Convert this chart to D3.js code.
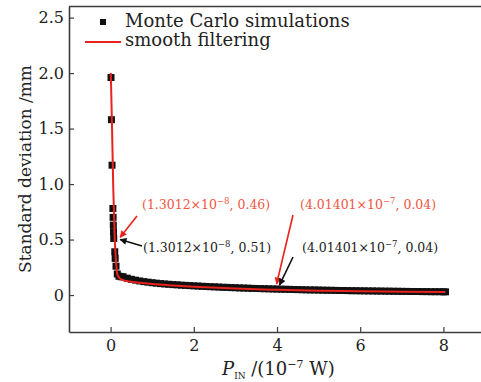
<!DOCTYPE html>
<html><head><meta charset="utf-8">
<script src="https://cdn.jsdelivr.net/npm/d3@7"></script>
<style>body{margin:0;background:#fff}svg{display:block}text{font-family:"DejaVu Serif",serif}</style>
</head><body><svg id="c" width="481" height="382"></svg>
<script>
// ---- data ----
const xTicks = [0, 2, 4, 6, 8];
const xTickLabels = ["0", "2", "4", "6", "8"];
const yTicks = [0, 0.5, 1.0, 1.5, 2.0, 2.5];
const yTickLabels = ["0", "0.5", "1.0", "1.5", "2.0", "2.5"];

const mcX = [0.01,0.02,0.035,0.055,0.06,0.065,0.07,0.075,0.1,0.11,0.13,0.16,0.2,0.25,
  0.3,0.4,0.5,0.6,0.7,0.8,0.9,1.0,1.1,1.2,1.3,1.4,1.5,1.6,1.7,1.8,1.9,2.0,
  2.1,2.2,2.3,2.4,2.5,2.6,2.7,2.8,2.9,3.0,3.1,3.2,3.3,3.4,3.5,3.6,3.7,3.8,3.9,4.0,
  4.1,4.2,4.3,4.4,4.5,4.6,4.7,4.8,4.9,5.0,5.1,5.2,5.3,5.4,5.5,5.6,5.7,5.8,5.9,6.0,
  6.1,6.2,6.3,6.4,6.5,6.6,6.7,6.8,6.9,7.0,7.1,7.2,7.3,7.4,7.5,7.6,7.7,7.8,7.9,8.0,8.05];
const mcY = [1.96,1.58,1.17,0.78,0.70,0.63,0.57,0.51,0.39,0.33,0.26,0.19,0.17,0.165,
  0.165,0.152,0.142,0.134,0.127,0.121,0.116,0.111,0.107,0.103,0.100,0.097,0.094,0.092,0.089,0.087,0.085,0.083,
  0.081,0.079,0.077,0.075,0.074,0.072,0.070,0.069,0.067,0.066,0.064,0.063,0.062,0.060,0.059,0.058,0.057,0.056,0.055,0.054,
  0.053,0.052,0.051,0.050,0.049,0.048,0.047,0.046,0.046,0.045,0.044,0.043,0.043,0.042,0.041,0.041,0.040,0.039,0.039,0.038,
  0.038,0.037,0.037,0.036,0.036,0.035,0.035,0.034,0.034,0.033,0.033,0.032,0.032,0.032,0.031,0.031,0.030,0.030,0.030,0.029,0.029];

const fitX = [0.005,0.035,0.065,0.1,0.13,0.16,0.22,0.3,0.45,0.7,1.0,1.5,2.0,3.0,4.0,5.0,6.0,7.0,8.05];
const fitY = [2.0,1.5,0.95,0.5,0.3,0.19,0.15,0.135,0.122,0.11,0.099,0.086,0.075,0.058,0.047,0.039,0.034,0.030,0.027];

const legendLabels = ["Monte Carlo simulations", "smooth filtering"];
const annPre = ["(1.3012×10", "(1.3012×10", "(4.01401×10", "(4.01401×10"];
const annExp = ["−8", "−8", "−7", "−7"];
const annPost = [", 0.46)", ", 0.51)", ", 0.04)", ", 0.04)"];
const annTipX = [0.23, 0.23, 3.99, 4.06];
const annTipY = [0.52, 0.50, 0.10, 0.09];

// ---- drawing ----
const svg = d3.select("#c");
const L = 69, R = 485, T = 6.5, B = 332;
const x = d3.scaleLinear().domain([-1, 9]).range([L, R]);
const y = d3.scaleLinear().domain([-0.333, 2.6]).range([B, T]);
const axisCol = "#3c3c3c";

svg.append("line").attr("x1", L).attr("x2", R).attr("y1", T).attr("y2", T).attr("stroke", axisCol).attr("stroke-width", 1.6);
svg.append("line").attr("x1", R).attr("x2", R).attr("y1", T).attr("y2", B).attr("stroke", axisCol).attr("stroke-width", 1.6);

const gx = svg.append("g").attr("transform", `translate(0,${B})`)
  .call(d3.axisBottom(x).tickValues(xTicks).tickFormat((d, i) => xTickLabels[i]).tickSize(-5).tickSizeOuter(0).tickPadding(8));
const gy = svg.append("g").attr("transform", `translate(${L},0)`)
  .call(d3.axisLeft(y).tickValues(yTicks).tickFormat((d, i) => yTickLabels[i]).tickSize(-5).tickSizeOuter(0).tickPadding(5));
[gx, gy].forEach(g => {
  g.select(".domain").attr("stroke", axisCol).attr("stroke-width", 1.6);
  g.selectAll(".tick line").attr("stroke", axisCol).attr("stroke-width", 1.2);
  g.selectAll(".tick text").attr("font-family", "DejaVu Serif").attr("font-size", 16).attr("fill", "#222");
});

// Monte Carlo squares
const sq = 7;
svg.append("g").selectAll("rect").data(mcX.map((d, i) => [d, mcY[i]])).join("rect")
  .attr("x", d => x(d[0]) - sq / 2).attr("y", d => y(d[1]) - sq / 2)
  .attr("width", sq).attr("height", sq).attr("fill", "#111");

// smooth line
const line = d3.line().x(d => x(d[0])).y(d => y(d[1])).curve(d3.curveMonotoneX);
svg.append("path").datum(fitX.map((d, i) => [d, fitY[i]])).attr("d", line)
  .attr("fill", "none").attr("stroke", "#e8221c").attr("stroke-width", 2);

// legend
svg.append("rect").attr("x", 100).attr("y", 19).attr("width", 6).attr("height", 6).attr("fill", "#111");
svg.append("line").attr("x1", 85).attr("x2", 121).attr("y1", 42).attr("y2", 42).attr("stroke", "#e8221c").attr("stroke-width", 2);
svg.append("text").attr("x", 125).attr("y", 27).attr("font-size", 18).attr("fill", "#222").text(legendLabels[0]);
svg.append("text").attr("x", 125).attr("y", 46).attr("font-size", 18).attr("fill", "#222").text(legendLabels[1]);

// annotations
const defs = svg.append("defs");
[["ar", "#e8221c"], ["ab", "#111"]].forEach(([id, c]) => {
  defs.append("marker").attr("id", id).attr("viewBox", "0 0 10 10").attr("refX", 9).attr("refY", 5)
    .attr("markerWidth", 9).attr("markerHeight", 7).attr("markerUnits", "userSpaceOnUse").attr("orient", "auto")
    .append("path").attr("d", "M0,0L10,5L0,10z").attr("fill", c);
});
const annCol = ["#f2553f", "#222", "#f2553f", "#222"];
const arrCol = ["#e8221c", "#111", "#e8221c", "#111"];
const annTextPos = [[142, 209], [143, 252], [300, 209], [302, 252]];
const arrStart = [[137, 216], [142, 246], [293, 215], [293, 257]];
annPre.forEach((p, i) => {
  const t = svg.append("text").attr("x", annTextPos[i][0]).attr("y", annTextPos[i][1])
    .attr("font-size", 12.5).attr("fill", annCol[i]);
  t.append("tspan").text(p);
  t.append("tspan").attr("dy", -5).attr("font-size", 8.5).text(annExp[i]);
  t.append("tspan").attr("dy", 5).text(annPost[i]);
  svg.append("line").attr("x1", arrStart[i][0]).attr("y1", arrStart[i][1])
    .attr("x2", x(annTipX[i])).attr("y2", y(annTipY[i]))
    .attr("stroke", arrCol[i]).attr("stroke-width", 1.6).attr("marker-end", `url(#${i % 2 ? "ab" : "ar"})`);
});

// axis titles
svg.append("text").attr("transform", "translate(31,169) rotate(-90)").attr("text-anchor", "middle")
  .attr("font-size", 17).attr("fill", "#222").text("Standard deviation /mm");
const xt = svg.append("text").attr("x", 222).attr("y", 375).attr("font-size", 18).attr("fill", "#222");
xt.append("tspan").attr("font-style", "italic").text("P");
xt.append("tspan").attr("dy", 4).attr("font-size", 9).text("IN");
xt.append("tspan").attr("dy", -4).text(" /(10");
xt.append("tspan").attr("dy", -7).attr("font-size", 11).text("−7");
xt.append("tspan").attr("dy", 7).text(" W)");
</script></body></html>
